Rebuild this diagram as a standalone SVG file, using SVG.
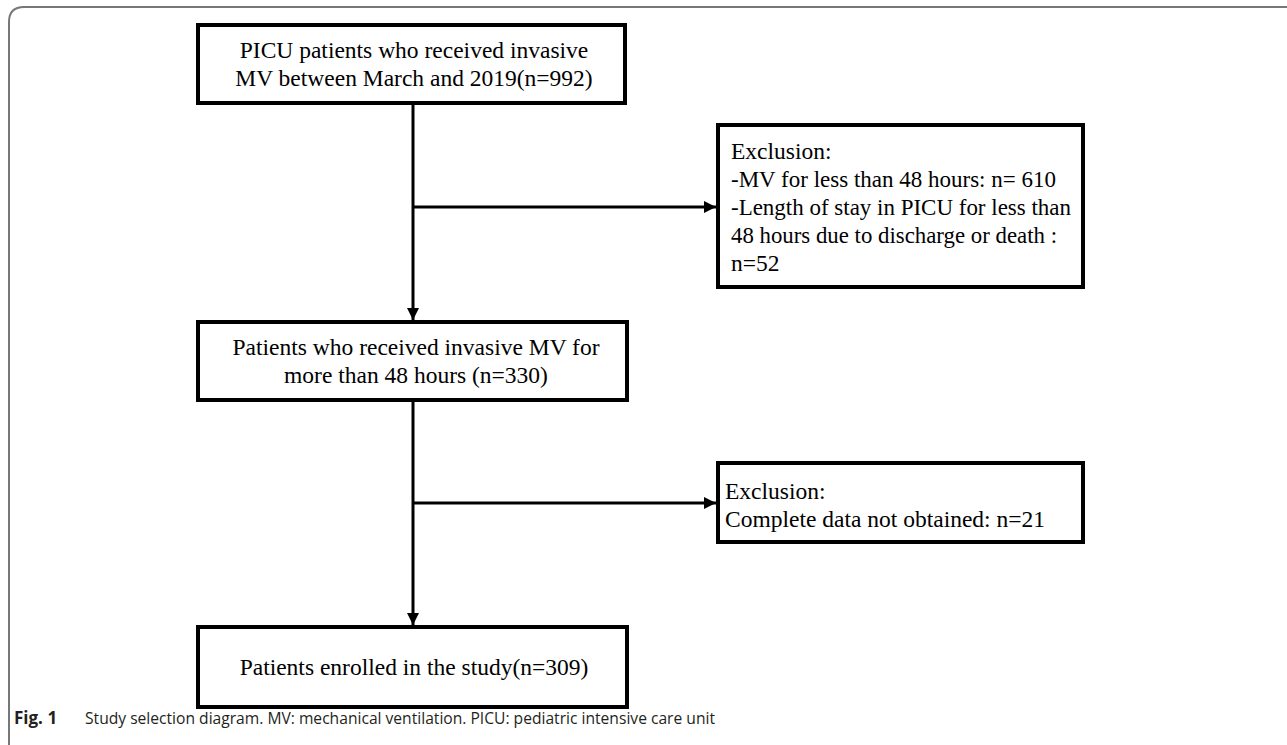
<svg xmlns="http://www.w3.org/2000/svg" width="1287" height="745" viewBox="0 0 1287 745">
<defs>
<style>
.box{fill:#fff;stroke:#000;stroke-width:4}
.t{font-family:"Liberation Serif","Times New Roman",serif;font-size:23.5px;fill:#000}
.c{text-anchor:middle}
.ln{stroke:#000;stroke-width:3;fill:none}
.cap{font-family:"Open Sans","Noto Sans",sans-serif;font-size:15.5px;fill:#231f20}
</style>
<marker id="ah" viewBox="0 0 10 10" refX="10" refY="5" markerWidth="4" markerHeight="4" orient="auto" markerUnits="strokeWidth">
<path d="M0,0 L10,5 L0,10 z" fill="#000"/>
</marker>
</defs>
<rect width="1287" height="745" fill="#fff"/>
<path d="M9,745 L9,22 Q9,7 24,7 L1287,7" fill="none" stroke="#777" stroke-width="2"/>
<g id="connectors">
<line class="ln" x1="413" y1="103" x2="413" y2="320" marker-end="url(#ah)"/>
<line class="ln" x1="413" y1="207" x2="716" y2="207" marker-end="url(#ah)"/>
<line class="ln" x1="413" y1="400" x2="413" y2="625" marker-end="url(#ah)"/>
<line class="ln" x1="413" y1="503" x2="716" y2="503" marker-end="url(#ah)"/>
</g>
<g id="n1">
<rect class="box" x="198" y="25" width="427" height="78"/>
<text class="t c" x="414" y="58">PICU patients who received invasive</text>
<text class="t c" x="414" y="86">MV between March and 2019(n=992)</text>
</g>
<g id="n2">
<rect class="box" x="718" y="125" width="365" height="162"/>
<text class="t" x="731" y="159"> Exclusion:</text>
<text class="t" x="731" y="187" textLength="325" lengthAdjust="spacingAndGlyphs">-MV for less than 48 hours: n= 610</text>
<text class="t" x="731" y="215" textLength="340" lengthAdjust="spacingAndGlyphs">-Length of stay in PICU for less than</text>
<text class="t" x="731" y="243" textLength="326" lengthAdjust="spacingAndGlyphs">48 hours due to discharge or death :</text>
<text class="t" x="731" y="271">n=52</text>
</g>
<g id="n3">
<rect class="box" x="198" y="322" width="429" height="78"/>
<text class="t c" x="416" y="355">Patients who received invasive MV for</text>
<text class="t c" x="416" y="383">more than 48 hours (n=330)</text>
</g>
<g id="n4">
<rect class="box" x="718" y="463" width="365" height="79"/>
<text class="t" x="725" y="499"> Exclusion:</text>
<text class="t" x="725" y="527">Complete data not obtained: n=21</text>
</g>
<g id="n5">
<rect class="box" x="198" y="627" width="429" height="80"/>
<text class="t c" x="414" y="675">Patients enrolled in the study(n=309)</text>
</g>
<text class="cap" x="14" y="724"><tspan font-weight="bold" font-size="17">Fig. 1</tspan><tspan x="85" textLength="630" lengthAdjust="spacingAndGlyphs">Study selection diagram. MV: mechanical ventilation. PICU: pediatric intensive care unit</tspan></text>
</svg>
